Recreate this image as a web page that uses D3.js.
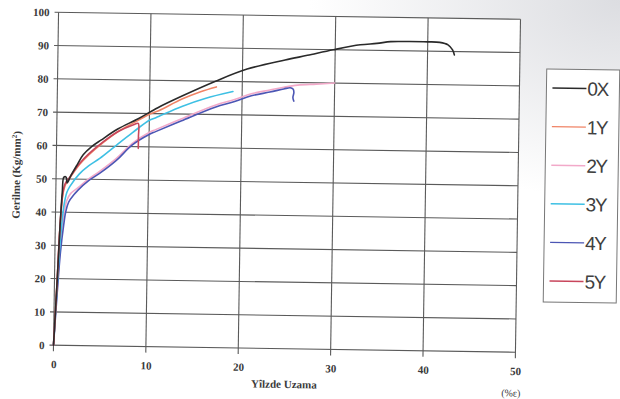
<!DOCTYPE html>
<html>
<head>
<meta charset="utf-8">
<script src="https://cdn.jsdelivr.net/npm/d3@7"></script>
<style>
  html, body { margin: 0; padding: 0; background: #fff; }
  svg { display: block; }
</style>
</head>
<body>
<svg id="chart" width="620" height="399"></svg>
<script>
// tick values
const xTicks = [0, 10, 20, 30, 40, 50];
const yTicks = [0, 10, 20, 30, 40, 50, 60, 70, 80, 90, 100];

// legend order
const seriesNames = ['0X', '1Y', '2Y', '3Y', '4Y', '5Y'];

// strain (%) / stress (kg/mm2) pairs
const curve0X = [[0,0],[0.3,20],[0.5,35],[0.7,46],[0.85,50.5],[1.1,50.5],[1.2,48.8],[1.6,51],[2.2,54],[2.9,57.3],[3.8,59.8],[4.8,61.8],[6.6,65.2],[8.8,68.4],[10.9,71.8],[13.5,75.4],[17.1,80],[20.5,83.8],[24.6,86.7],[27,88.2],[29.8,90],[32.7,91.6],[34.5,92.1],[36,92.7],[38,92.8],[40,92.8],[41.3,92.7],[42.2,92],[42.7,90.5],[42.9,89]];
const curve1Y = [[0,0],[0.3,20],[0.5,35],[0.75,45],[1,48],[1.5,50.3],[2.5,54.3],[3.5,57.3],[5,61],[6.6,64.4],[8.8,67.9],[10,69.8],[11,70.9],[13.5,74.5],[15.5,76.8],[17.2,78.3]];
const curve2Y = [[0,0],[0.3,17],[0.6,31],[0.9,39],[1.2,43.5],[1.6,45.6],[2.4,47.4],[3.5,50],[4.7,52.4],[6.5,56.4],[8.2,61],[10,64.3],[10.7,65.2],[13.5,68.6],[17.1,72.8],[19.2,74.6],[21,76.4],[23,77.6],[24.5,78.5],[26,79.2],[28,79.6],[30,80]];
const curve3Y = [[0,0],[0.3,18],[0.6,33],[0.9,42],[1.2,46],[1.5,47.7],[2.5,51.5],[3.5,54],[4.7,56.3],[6.5,60.4],[8.2,64.2],[10,68],[10.7,68.8],[13.5,72.3],[16,74.8],[19,77]];
const curve4Y = [[0,0],[0.3,15],[0.6,28],[0.9,36],[1.1,40],[1.4,43],[2,45.4],[2.4,46.7],[3.5,49.5],[4.7,51.8],[6.5,55.8],[8.2,60.5],[10,63.7],[10.7,64.6],[13.5,68],[17.1,72.2],[19.2,74],[21,75.8],[23,77],[24.5,78],[25.2,78.4],[25.5,78],[25.6,77],[25.5,75.5],[25.6,74.4]];
const curve5Y = [[0,0],[0.3,20],[0.5,35],[0.75,45.5],[1,48.6],[1.5,50.6],[2.5,54.6],[3.5,57.6],[5,61.2],[6.6,64.4],[8.3,66.6],[8.8,67],[8.85,63],[8.85,59.5]];

const curves = [curve0X, curve1Y, curve2Y, curve3Y, curve4Y, curve5Y];
const colors = ['#2a2a2a', '#f08466', '#f2a9c9', '#3ec0e4', '#4c56b4', '#c8465c'];

const svg = d3.select('#chart');

// soft scan shading in the background
const defs = svg.append('defs');
const grad = defs.append('radialGradient')
  .attr('id', 'scanShade')
  .attr('cx', '100%').attr('cy', '0%').attr('r', '50%');
grad.append('stop').attr('offset', '0%').attr('stop-color', '#dcdde1');
grad.append('stop').attr('offset', '100%').attr('stop-color', '#ffffff');
svg.append('rect').attr('width', 620).attr('height', 399).attr('fill', 'url(#scanShade)');

// the scan is slightly tilted clockwise
const root = svg.append('g').attr('transform', 'rotate(0.87, 287, 182)');

const plotLeft = 56, plotRight = 518, plotTop = 15.75, plotBottom = 348.75;
const x = d3.scaleLinear().domain([0, 50]).range([plotLeft, plotRight]);
const y = d3.scaleLinear().domain([0, 100]).range([plotBottom, plotTop]);

const gridColor = '#5a5a5a';
const labelColor = '#3a3a3a';

root.append('rect')
  .attr('x', plotLeft).attr('y', plotTop)
  .attr('width', plotRight - plotLeft).attr('height', plotBottom - plotTop)
  .attr('fill', '#fff');

// grid
root.append('g')
  .selectAll('line')
  .data(yTicks)
  .enter()
  .append('line')
  .attr('x1', plotLeft - 4).attr('x2', plotRight)
  .attr('y1', (d) => y(d)).attr('y2', (d) => y(d))
  .style('stroke', gridColor)
  .style('stroke-width', 1.1);

root.append('g')
  .selectAll('line')
  .data(xTicks)
  .enter()
  .append('line')
  .attr('x1', (d) => x(d)).attr('x2', (d) => x(d))
  .attr('y1', plotTop).attr('y2', plotBottom + 6)
  .style('stroke', gridColor)
  .style('stroke-width', 1.1);

// x axis labels
const xAxis = root.append('g')
  .attr('transform', `translate(0,${plotBottom})`)
  .call(d3.axisBottom(x).tickValues(xTicks).tickSize(0).tickPadding(15));
xAxis.select('.domain').remove();
xAxis.selectAll('text')
  .attr('font-family', '"Liberation Serif", "Times New Roman", serif')
  .attr('font-weight', 'bold')
  .attr('font-size', '11px')
  .attr('fill', labelColor);

// y axis labels
const yAxis = root.append('g')
  .attr('transform', `translate(${plotLeft},0)`)
  .call(d3.axisLeft(y).tickValues(yTicks).tickSize(0).tickPadding(9));
yAxis.select('.domain').remove();
yAxis.selectAll('text')
  .attr('font-family', '"Liberation Serif", "Times New Roman", serif')
  .attr('font-weight', 'bold')
  .attr('font-size', '11px')
  .attr('fill', labelColor);

// axis titles
const yTitle = root.append('text')
  .attr('transform', 'translate(20,179) rotate(-90)')
  .attr('text-anchor', 'middle')
  .attr('font-family', '"Liberation Serif", "Times New Roman", serif')
  .attr('font-weight', 'bold')
  .attr('font-size', '11px')
  .attr('fill', labelColor);
yTitle.append('tspan').text('Gerilme (Kg/mm');
yTitle.append('tspan').attr('baseline-shift', 'super').attr('font-size', '7px').text('2');
yTitle.append('tspan').text(')');

root.append('text')
  .attr('x', 287).attr('y', 388)
  .attr('text-anchor', 'middle')
  .attr('font-family', '"Liberation Serif", "Times New Roman", serif')
  .attr('font-weight', 'bold')
  .attr('font-size', '11px')
  .attr('fill', labelColor)
  .text('Yîlzde Uzama');

root.append('text')
  .attr('x', 514).attr('y', 393)
  .attr('text-anchor', 'middle')
  .attr('font-family', '"Liberation Serif", "Times New Roman", serif')
  .attr('font-size', '10px')
  .attr('fill', labelColor)
  .text('(%ε)');

// curves
const smoothLine = d3.line()
  .x((d) => x(d[0]))
  .y((d) => y(d[1]))
  .curve(d3.curveCatmullRom.alpha(0.5));

// draw order so 0X ends on top
[2, 4, 3, 1, 5, 0].forEach((i) => {
  root.append('path')
    .attr('d', smoothLine(curves[i]))
    .style('fill', 'none')
    .style('stroke', colors[i])
    .style('stroke-width', 1.6)
    .style('stroke-linejoin', 'round')
    .style('stroke-linecap', 'round');
});

// legend
const legendGroup = root.append('g');
legendGroup.append('rect')
  .attr('x', 545).attr('y', 65)
  .attr('width', 73).attr('height', 233)
  .attr('fill', '#fff')
  .style('stroke', '#777')
  .style('stroke-width', 1);

const legendY = d3.scalePoint().domain(seriesNames).range([84, 277]);
seriesNames.forEach((name, i) => {
  legendGroup.append('line')
    .attr('x1', 551).attr('x2', 585)
    .attr('y1', legendY(name)).attr('y2', legendY(name))
    .style('stroke', colors[i])
    .style('stroke-width', 1.4);
  legendGroup.append('text')
    .attr('x', 586).attr('y', legendY(name) + 7)
    .attr('font-family', '"Liberation Sans", Arial, sans-serif')
    .attr('font-size', '19px')
    .attr('letter-spacing', '-1.5px')
    .attr('fill', '#404040')
    .text(name);
});
</script>
</body>
</html>
